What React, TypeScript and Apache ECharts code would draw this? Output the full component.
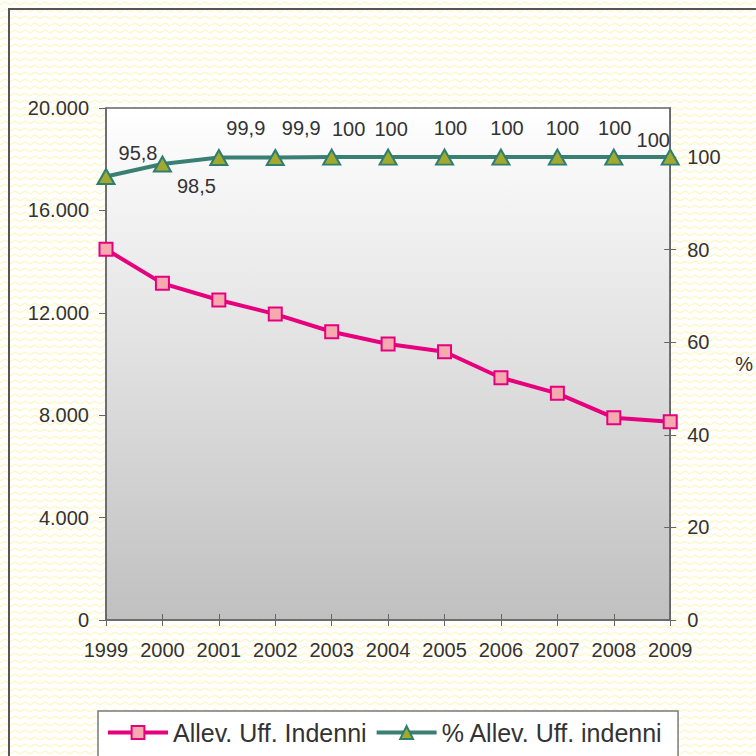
import React, { useEffect, useRef } from "react";
import * as echarts from "echarts";

const years = ["1999", "2000", "2001", "2002", "2003", "2004", "2005", "2006", "2007", "2008", "2009"];
const allieviIndenni = [14480, 13150, 12500, 11950, 11260, 10780, 10480, 9465, 8855, 7905, 7745];
const pctIndenni = [95.8, 98.5, 99.9, 99.9, 100, 100, 100, 100, 100, 100, 100];
const leftTicks = [0, 4000, 8000, 12000, 16000, 20000];
const rightTicks = [0, 20, 40, 60, 80, 100];
const seriesNames = ["Allev. Uff. Indenni", "% Allev. Uff. indenni"];

// label placement offsets (style only)
const labelOffsets: [number, number][] = [
  [32, -24], [34, 22], [27, -30], [26, -30], [17, -28], [3, -28],
  [6, -29], [6, -29], [5, -29], [1, -29], [-17, -17],
];

const FONT = "Liberation Sans, Arial, sans-serif";
const TXT = "#333333";

const zig =
  "url(\"data:image/svg+xml;utf8,<svg xmlns='http://www.w3.org/2000/svg' width='10' height='7'><polyline points='0,5 5,2 10,5' fill='none' stroke='%23FFF6C4' stroke-width='1.4'/></svg>\")";

export default function App() {
  const ref = useRef<HTMLDivElement>(null);
  useEffect(() => {
    if (!ref.current) return;
    const chart = echarts.init(ref.current, null, { renderer: "svg" });
    const fmtThousands = (v: number) =>
      String(v).replace(/\B(?=(\d{3})+(?!\d))/g, ".");
    chart.setOption({
      animation: false,
      textStyle: { fontFamily: FONT },
      grid: {
        left: 106,
        right: 83,
        top: 108,
        bottom: 136,
        show: true,
        backgroundColor: new echarts.graphic.LinearGradient(0, 0, 0, 1, [
          { offset: 0, color: "#FFFFFF" },
          { offset: 1, color: "#C0C0C0" },
        ]),
        borderColor: "#666666",
        borderWidth: 1.5,
      },
      legend: {
        left: 98,
        top: 711,
        data: seriesNames,
        backgroundColor: "#FFFFFF",
        borderColor: "#7A7A7A",
        borderWidth: 1.5,
        padding: [9, 15, 40, 8],
        itemWidth: 60,
        itemHeight: 16,
        itemGap: 8,
        lineStyle: { width: 4 },
        textStyle: { fontSize: 25, color: TXT, fontFamily: FONT },
      },
      xAxis: [
        {
          type: "category",
          data: years,
          boundaryGap: false,
          axisLine: { lineStyle: { color: "#666666", width: 1.5 } },
          axisTick: { show: true, length: 6, interval: 0, lineStyle: { color: "#666666" } },
          axisLabel: { fontSize: 20, color: TXT, margin: 20, interval: 0, fontFamily: FONT },
          splitLine: { show: false },
        },
        {
          type: "category",
          data: years,
          boundaryGap: false,
          position: "bottom",
          axisLine: { show: false },
          axisTick: { show: true, inside: true, length: 6, interval: 0, lineStyle: { color: "#666666" } },
          axisLabel: { show: false },
          splitLine: { show: false },
        },
      ],
      yAxis: [
        {
          type: "value",
          min: 0,
          max: 20000,
          interval: 4000,
          position: "left",
          axisLine: { show: true, lineStyle: { color: "#666666", width: 1.5 } },
          axisTick: { show: true, length: 7, lineStyle: { color: "#666666" }, customValues: leftTicks },
          axisLabel: {
            fontSize: 20,
            color: TXT,
            margin: 17,
            fontFamily: FONT,
            customValues: leftTicks,
            formatter: (v: number) => fmtThousands(v),
          },
          splitLine: { show: false },
        },
        {
          type: "value",
          min: 0,
          max: 110.6,
          position: "right",
          name: "%",
          nameLocation: "middle",
          nameGap: 65,
          nameRotate: 0,
          nameTextStyle: { fontSize: 20, color: TXT, fontFamily: FONT },
          axisLine: { show: true, lineStyle: { color: "#666666", width: 1.5 } },
          axisTick: { show: true, length: 6, lineStyle: { color: "#666666" }, customValues: rightTicks },
          axisLabel: {
            fontSize: 20,
            color: TXT,
            margin: 17,
            fontFamily: FONT,
            customValues: rightTicks,
          },
          splitLine: { show: false },
        },
        {
          type: "value",
          min: 0,
          max: 110.6,
          position: "right",
          axisLine: { show: false },
          axisTick: { show: true, inside: true, length: 6, lineStyle: { color: "#666666" }, customValues: rightTicks },
          axisLabel: { show: false },
          splitLine: { show: false },
        },
      ],
      graphic: [
        { type: "line", shape: { x1: 8, y1: 9, x2: 756, y2: 9 }, style: { stroke: "#555555", lineWidth: 2 } },
        { type: "line", shape: { x1: 9, y1: 8, x2: 9, y2: 756 }, style: { stroke: "#555555", lineWidth: 2 } },
      ],
      series: [
        {
          name: seriesNames[0],
          type: "line",
          yAxisIndex: 0,
          data: allieviIndenni,
          symbol: "rect",
          symbolSize: 13,
          lineStyle: { color: "#E6007E", width: 4 },
          itemStyle: { color: "#F5AAB0", borderColor: "#E6007E", borderWidth: 2 },
          z: 3,
        },
        {
          name: seriesNames[1],
          type: "line",
          yAxisIndex: 1,
          data: pctIndenni.map((v, i) => ({
            value: v,
            label: { offset: labelOffsets[i] },
          })),
          symbol: "triangle",
          symbolSize: [17, 15],
          lineStyle: { color: "#3A7F73", width: 4 },
          itemStyle: { color: "#A3A82E", borderColor: "#2F7E72", borderWidth: 2 },
          label: {
            show: true,
            position: "inside",
            fontSize: 20,
            color: TXT,
            fontFamily: FONT,
            formatter: (p: any) => String(p.value).replace(".", ","),
          },
          z: 4,
        },
      ],
    });
    return () => chart.dispose();
  }, []);
  return (
    <div
      ref={ref}
      style={{
        position: "fixed",
        left: 0,
        top: 0,
        width: 756,
        height: 756,
        backgroundColor: "#FFFFFF",
        backgroundImage: zig,
      }}
    />
  );
}
